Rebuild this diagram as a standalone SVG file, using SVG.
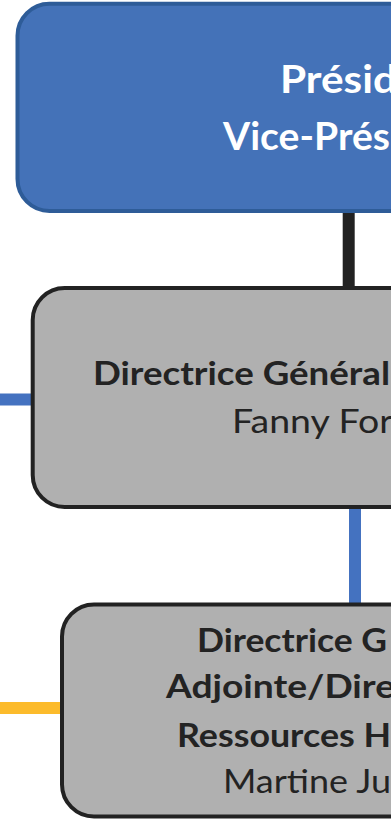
<svg xmlns="http://www.w3.org/2000/svg" width="391" height="820" viewBox="0 0 391 820">
<style>
.box{stroke-width:4}
.blue{fill:#4472B8;stroke:#2E5C98}
.gray{fill:#B0B0B0;stroke:#222222}
.t{font-family:Lato,"Open Sans","Liberation Sans",sans-serif;font-size:32px}
.b{font-weight:bold}
.w{fill:#FFFFFF;font-size:39px}
.d{fill:#232323}
</style>
<rect width="391" height="820" fill="#FFFFFF"/>
<g id="connectors" fill="none" stroke-width="12">
<line x1="348.7" y1="205" x2="348.7" y2="292" stroke="#222222"/>
<line x1="355" y1="500" x2="355" y2="608" stroke="#4472C0"/>
<line x1="0" y1="399.5" x2="36" y2="399.5" stroke="#4472C0"/>
<line x1="0" y1="708" x2="64" y2="708" stroke="#FCBB2B"/>
</g>
<g id="node-president">
<rect class="box blue" x="17.5" y="3.7" width="500" height="207.3" rx="32" ry="32"/>
<text class="t b w" x="280" y="93" textLength="117" lengthAdjust="spacingAndGlyphs">Présid</text>
<text class="t b w" x="223" y="150" textLength="167" lengthAdjust="spacingAndGlyphs">Vice-Prés</text>
</g>
<g id="node-dg">
<rect class="box gray" x="32.7" y="288" width="500" height="219" rx="32" ry="32"/>
<text class="t b d" x="93" y="385" textLength="297" lengthAdjust="spacingAndGlyphs">Directrice Général</text>
<text class="t d" x="232" y="433" textLength="161" lengthAdjust="spacingAndGlyphs">Fanny For</text>
</g>
<g id="node-dga">
<rect class="box gray" x="62" y="604.5" width="500" height="212" rx="32" ry="32"/>
<text class="t b d" x="197" y="652" textLength="190" lengthAdjust="spacingAndGlyphs">Directrice G</text>
<text class="t b d" x="166" y="698" textLength="229" lengthAdjust="spacingAndGlyphs">Adjointe/Dire</text>
<text class="t b d" x="177" y="747" textLength="214" lengthAdjust="spacingAndGlyphs">Ressources H</text>
<text class="t d" x="223" y="793" textLength="168" lengthAdjust="spacingAndGlyphs">Martine Ju</text>
</g>
</svg>
